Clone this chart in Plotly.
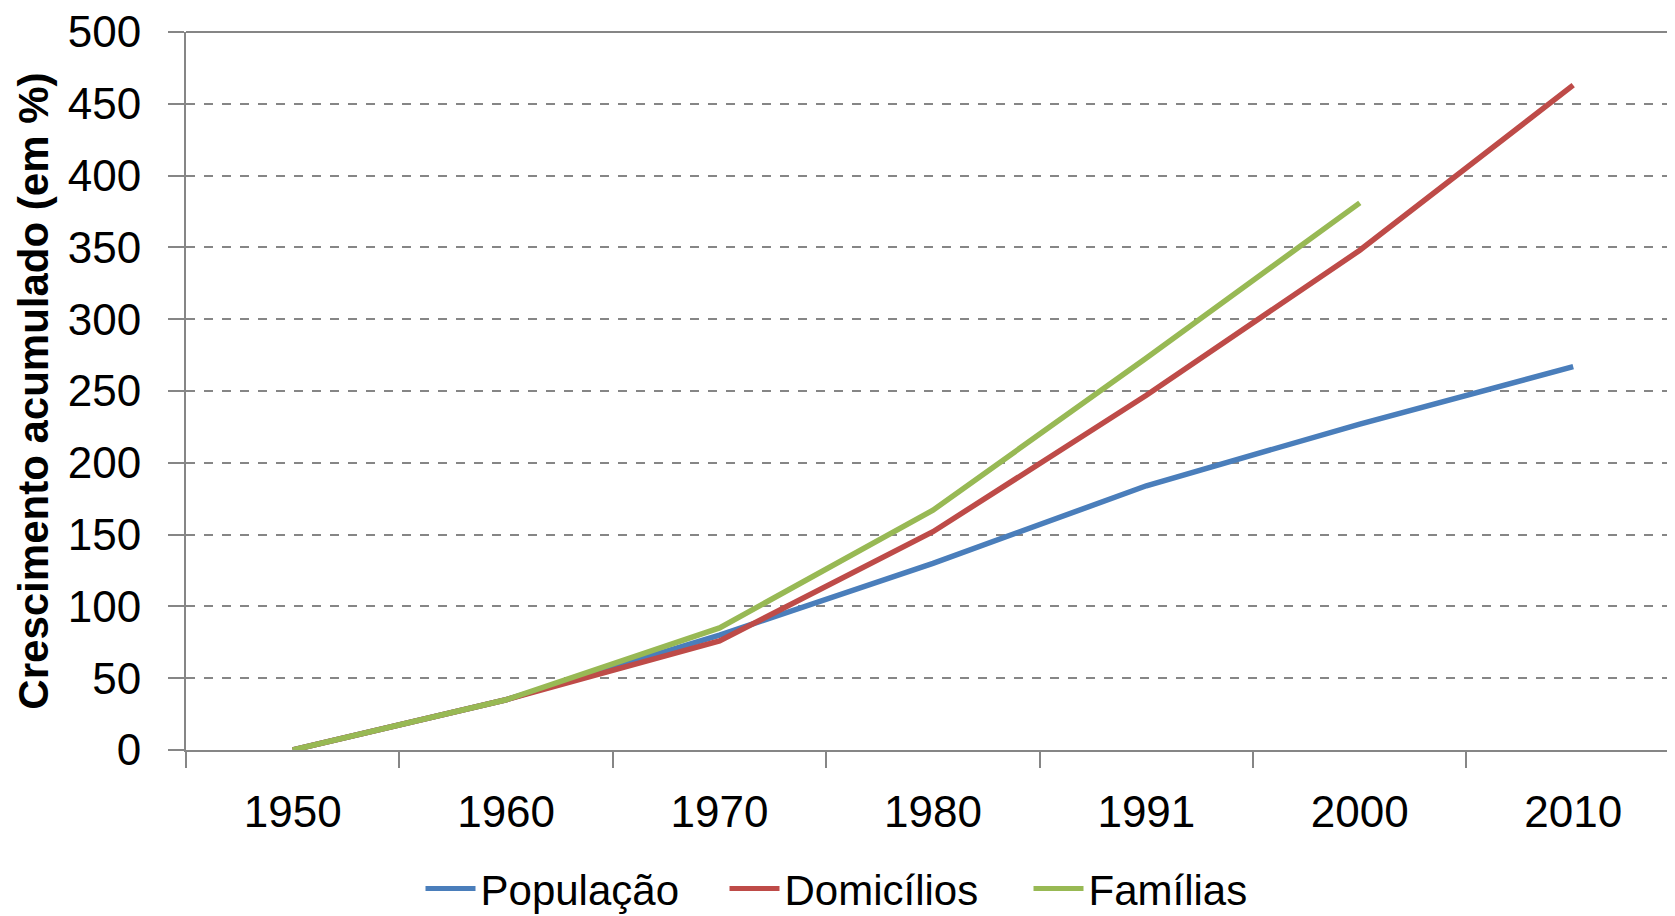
import plotly.graph_objects as go

anos = ["1950", "1960", "1970", "1980", "1991", "2000", "2010"]
populacao = [0, 35, 80, 130, 184, 227, 267]
domicilios = [0, 35, 76, 152, 247, 348, 463]
familias = [0, 35, 85, 167, 273, 381, None]

y_ticks = list(range(0, 501, 50))

FONT = "Liberation Sans, Arial, sans-serif"

fig = go.Figure()
series = [
    ("População", populacao, "#4A7EBB"),
    ("Domicílios", domicilios, "#BE4B48"),
    ("Famílias", familias, "#98B954"),
]
for name, vals, color in series:
    fig.add_trace(go.Scatter(
        x=anos, y=vals, name=name, mode="lines",
        line=dict(color=color, width=5.5),
        connectgaps=False,
    ))

fig.update_layout(
    width=1667, height=908,
    margin=dict(l=178, r=0, t=24, b=166),
    paper_bgcolor="white", plot_bgcolor="white",
    font=dict(family=FONT, size=44, color="black"),
    showlegend=True,
    legend=dict(
        orientation="h", xref="container", yref="container",
        x=0.521, y=0.03, xanchor="center", yanchor="middle",
        font=dict(family=FONT, size=42, color="black"),
        itemwidth=50, tracegroupgap=0, itemsizing="constant",
        entrywidth=239, entrywidthmode="pixels",
        bgcolor="rgba(0,0,0,0)",
    ),
)
fig.update_xaxes(
    type="category", range=[-0.5, 6.477], automargin=False,
    showgrid=False, showline=True, linecolor="#868686", linewidth=2,
    ticks="outside", tickson="boundaries", ticklen=16, tickwidth=2, tickcolor="#868686",
    tickfont=dict(family=FONT, size=44, color="black"),
    ticklabelstandoff=22, ticklabeloverflow="allow",
)
fig.update_yaxes(
    range=[0, 500], tickvals=y_ticks, ticktext=[str(v) for v in y_ticks],
    automargin=False, ticklabeloverflow="allow",
    showgrid=True, gridcolor="#868686", griddash="dash", gridwidth=1.5,
    showline=True, linecolor="#868686", linewidth=2,
    ticks="outside", ticklen=16, tickwidth=2, tickcolor="#868686",
    tickfont=dict(family=FONT, size=44, color="black"),
    ticklabelstandoff=18, zeroline=False,
)
fig.add_shape(type="line", xref="paper", yref="paper", x0=0, x1=1, y0=1, y1=1,
              line=dict(color="#868686", width=2))
fig.add_annotation(
    text="<b>Crescimento acumulado (em %)</b>", textangle=-90,
    xref="paper", yref="paper", x=-0.103, y=0.5,
    xanchor="center", yanchor="middle", showarrow=False,
    font=dict(family=FONT, size=42, color="black"),
)

fig.write_html("out.html")
